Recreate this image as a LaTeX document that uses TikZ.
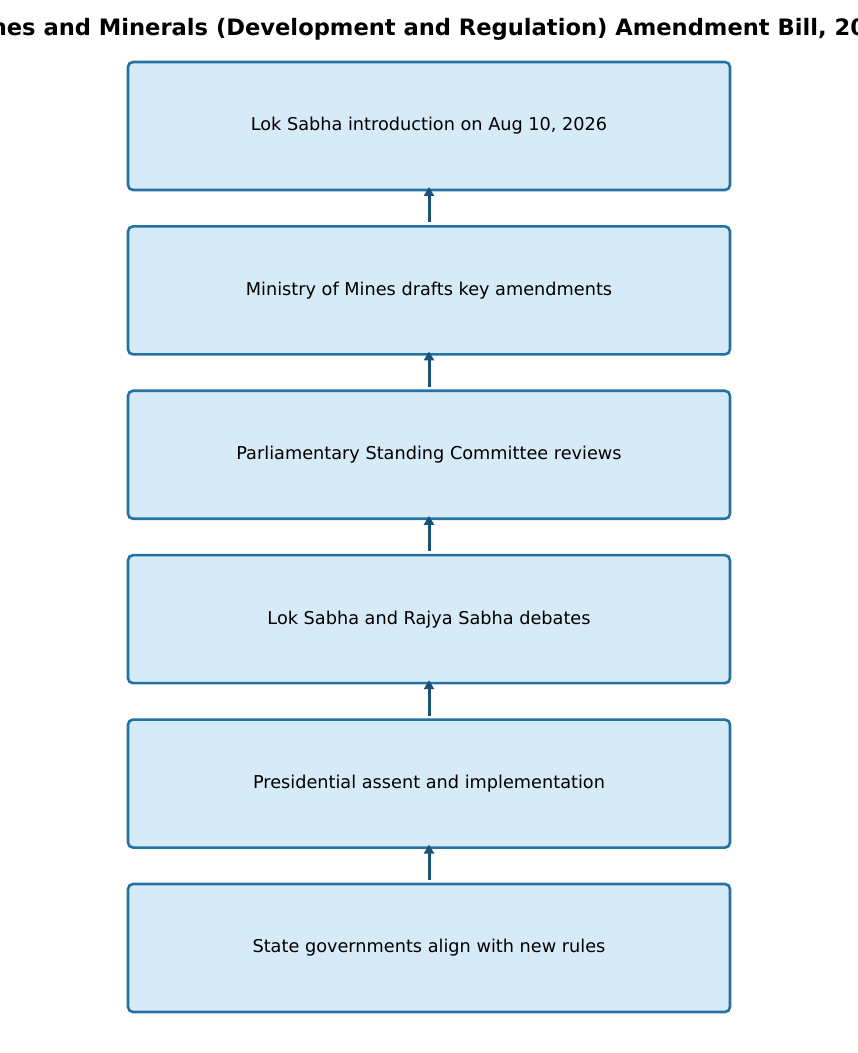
\documentclass[tikz,border=0pt]{standalone}
\usepackage{fontspec}
\setmainfont{DejaVu Sans}
\usetikzlibrary{positioning,chains,arrows.meta}
\definecolor{boxfill}{HTML}{D6EAF8}
\definecolor{boxline}{HTML}{2471A3}
\definecolor{arrowcolor}{HTML}{1A5276}

\begin{document}
\begin{tikzpicture}[%
    x=1pt, y=1pt,
    >={Triangle[length=9pt,width=10pt]}, % small filled heads
    start chain=going below,             % boxes stacked top-to-bottom
    on grid,                             % spacing is centre-to-centre
    node distance=164.4pt,
    ]
\tikzset{
  stage/.style={draw=boxline, fill=boxfill, line width=2.6pt, on chain,
    rounded corners=5pt, minimum width=602pt, minimum height=128pt,
    outer sep=0pt, font=\fontsize{17.7}{21}\selectfont},
  link/.style={->, draw=arrowcolor, line width=3pt, shorten <=4pt, shorten >=-3pt},
}
\useasboundingbox (0,0) rectangle (858,1053);

\node [anchor=base, font=\fontsize{22.6}{27}\selectfont\bfseries] (title) at (429,1017)
  {Mines and Minerals (Development and Regulation) Amendment Bill, 2026};

\node [stage] (s1) at (429,927) {Lok Sabha introduction on Aug 10, 2026};
\node [stage] (s2) {Ministry of Mines drafts key amendments};
\node [stage] (s3) {Parliamentary Standing Committee reviews};
\node [stage] (s4) {Lok Sabha and Rajya Sabha debates};
\node [stage] (s5) {Presidential assent and implementation};
\node [stage] (s6) {State governments align with new rules};

\draw [link] (s2.north) -- (s1.south);
\draw [link] (s3.north) -- (s2.south);
\draw [link] (s4.north) -- (s3.south);
\draw [link] (s5.north) -- (s4.south);
\draw [link] (s6.north) -- (s5.south);

\end{tikzpicture}
\end{document}
